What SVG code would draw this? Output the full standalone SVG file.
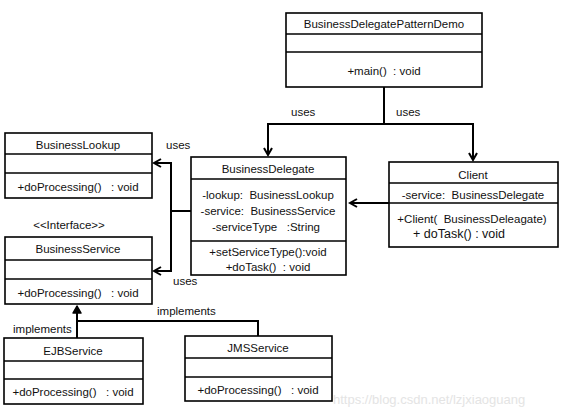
<svg xmlns="http://www.w3.org/2000/svg" width="575" height="420" viewBox="0 0 575 420">
<style>
.box{fill:#fff;stroke:#000;stroke-width:1.6}
.sep{stroke:#000;stroke-width:1.6}
.t{font-family:"Liberation Sans",Arial,sans-serif;font-size:11.5px;fill:#111;text-anchor:middle;white-space:pre}
.l{font-family:"Liberation Sans",Arial,sans-serif;font-size:11.5px;fill:#111;white-space:pre}
.c{fill:none;stroke:#000;stroke-width:2}
.wm{font-family:"Liberation Sans",Arial,sans-serif;font-size:13px;fill:#e4e4e4}
</style>
<defs>
<marker id="arr" markerWidth="10" markerHeight="10" refX="8" refY="5" orient="auto" markerUnits="userSpaceOnUse">
<path d="M1,1 L8,5 L1,9" fill="none" stroke="#000" stroke-width="2"/>
</marker>
<marker id="imp" markerWidth="10" markerHeight="10" refX="8" refY="5" orient="auto" markerUnits="userSpaceOnUse">
<path d="M1,1 L8,5 L1,9 Z" fill="#000" stroke="#000" stroke-width="1.5" stroke-linejoin="round"/>
</marker>
</defs>
<rect width="575" height="420" fill="#fff"/>

<g id="connectors">
<path class="c" d="M384,87 V124 H268 V155" marker-end="url(#arr)"/>
<path class="c" d="M384,124 H473 V160" marker-end="url(#arr)"/>
<path class="c" d="M191,211 H171 V163 H154" marker-end="url(#arr)"/>
<path class="c" d="M171,211 V271 H154" marker-end="url(#arr)"/>
<path class="c" d="M389,203 H350" marker-end="url(#arr)"/>
<path class="c" d="M77,338 V306" marker-end="url(#imp)"/>
<path class="c" d="M77,321 H258 V336"/>
<text class="l" x="291" y="116">uses</text>
<text class="l" x="396" y="116">uses</text>
<text class="l" x="166" y="149">uses</text>
<text class="l" x="173" y="285">uses</text>
<text class="l" x="13" y="333">implements</text>
<text class="l" x="157" y="315">implements</text>
</g>

<g id="BusinessDelegatePatternDemo">
<rect class="box" x="286" y="13" width="196" height="74"/>
<line class="sep" x1="286" y1="34" x2="482" y2="34"/>
<line class="sep" x1="286" y1="52" x2="482" y2="52"/>
<text class="t" x="384" y="28">BusinessDelegatePatternDemo</text>
<text class="t" x="384" y="75">+main()  : void</text>
</g>

<g id="BusinessLookup">
<rect class="box" x="5" y="133" width="147" height="65"/>
<line class="sep" x1="5" y1="154" x2="152" y2="154"/>
<line class="sep" x1="5" y1="173" x2="152" y2="173"/>
<text class="t" x="78" y="149">BusinessLookup</text>
<text class="t" x="78" y="191">+doProcessing()   : void</text>
</g>

<g id="BusinessService">
<text class="t" x="69" y="229">&lt;&lt;Interface&gt;&gt;</text>
<rect class="box" x="5" y="237" width="147" height="67"/>
<line class="sep" x1="5" y1="260" x2="152" y2="260"/>
<line class="sep" x1="5" y1="279" x2="152" y2="279"/>
<text class="t" x="78" y="253">BusinessService</text>
<text class="t" x="78" y="297">+doProcessing()   : void</text>
</g>

<g id="BusinessDelegate">
<rect class="box" x="191" y="157" width="155" height="118"/>
<line class="sep" x1="191" y1="179" x2="346" y2="179"/>
<line class="sep" x1="191" y1="241" x2="346" y2="241"/>
<text class="t" x="268" y="173">BusinessDelegate</text>
<text class="t" x="268" y="199">-lookup:  BusinessLookup</text>
<text class="t" x="268" y="215">-service:  BusinessService</text>
<text class="t" x="266" y="231">-serviceType   :String</text>
<text class="t" x="268" y="256">+setServiceType():void</text>
<text class="t" x="268" y="271">+doTask()  : void</text>
</g>

<g id="Client">
<rect class="box" x="389" y="162" width="169" height="85"/>
<line class="sep" x1="389" y1="183" x2="558" y2="183"/>
<line class="sep" x1="350" y1="203" x2="558" y2="203"/>
<text class="t" x="473" y="179">Client</text>
<text class="t" x="473" y="199">-service:  BusinessDelegate</text>
<text class="t" x="472" y="223">+Client(  BusinessDeleagate)</text>
<text class="l" x="413" y="238" style="font-size:12.5px">+ doTask() : void</text>
</g>

<g id="EJBService">
<rect class="box" x="4" y="338" width="139" height="66"/>
<line class="sep" x1="4" y1="361" x2="143" y2="361"/>
<line class="sep" x1="4" y1="379" x2="143" y2="379"/>
<text class="t" x="73" y="355">EJBService</text>
<text class="t" x="73" y="396">+doProcessing()   : void</text>
</g>

<g id="JMSService">
<rect class="box" x="185" y="336" width="147" height="65"/>
<line class="sep" x1="185" y1="358" x2="332" y2="358"/>
<line class="sep" x1="185" y1="377" x2="332" y2="377"/>
<text class="t" x="258" y="352">JMSService</text>
<text class="t" x="258" y="394">+doProcessing()   : void</text>
</g>

<text class="wm" x="333" y="404">https://blog.csdn.net/lzjxiaoguang</text>
</svg>
